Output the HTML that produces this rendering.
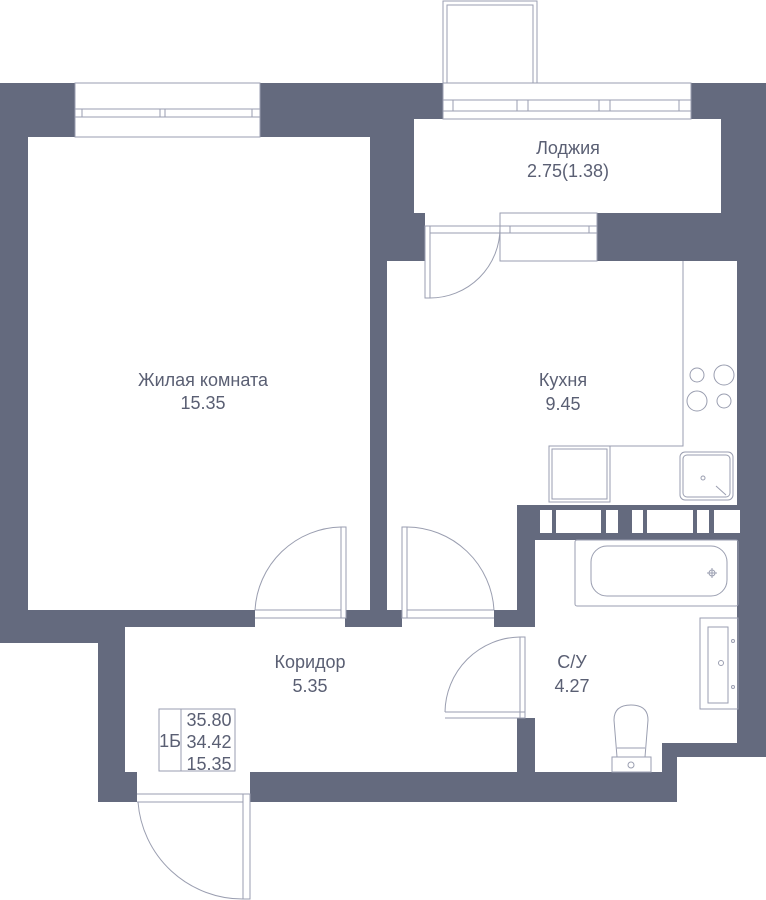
<!DOCTYPE html>
<html><head><meta charset="utf-8"><style>
html,body{margin:0;padding:0;background:#fff;}
svg{display:block;}
text{font-family:"Liberation Sans","Noto Sans CJK SC",sans-serif;fill:#5a5f73;font-size:18px;text-anchor:middle;}
</style></head><body>
<svg width="766" height="900" viewBox="0 0 766 900" xmlns="http://www.w3.org/2000/svg">
<g fill="#646a7e">
<rect x="0" y="83" width="766" height="178"/>
<rect x="0" y="83" width="28" height="560"/>
<rect x="0" y="610" width="255" height="33"/>
<rect x="98" y="610" width="27" height="192"/>
<rect x="98" y="772" width="579" height="30"/>
<rect x="370" y="137" width="17" height="490"/>
<rect x="345" y="610" width="57" height="17"/>
<rect x="494" y="610" width="41" height="17"/>
<rect x="517" y="505" width="249" height="35"/>
<rect x="517" y="505" width="18" height="122"/>
<rect x="517" y="718" width="18" height="84"/>
<rect x="737" y="83" width="29" height="674"/>
<rect x="662" y="743" width="104" height="14"/>
<rect x="662" y="743" width="15" height="59"/>
</g>
<g fill="#fff">
<rect x="28" y="137" width="342" height="473"/>
<rect x="387" y="261" width="350" height="244"/>
<rect x="387" y="505" width="130" height="105"/>
<rect x="414" y="119" width="307" height="94"/>
<rect x="125" y="627" width="392" height="145"/>
<rect x="535" y="540" width="202" height="203"/>
<rect x="535" y="740" width="127" height="32"/>
<rect x="255" y="605" width="90" height="25"/>
<rect x="402" y="605" width="92" height="25"/>
<rect x="514" y="627" width="24" height="91"/>
<rect x="137" y="769" width="113" height="36"/>
<rect x="425" y="210" width="75" height="54"/>
</g>
<g fill="#fff" stroke="#9a9eb0" stroke-width="1">
<rect x="75" y="83" width="185" height="54"/>
<line x1="75" y1="109" x2="260" y2="109"/><line x1="75" y1="117" x2="260" y2="117"/>
<line x1="82" y1="109" x2="82" y2="117"/><line x1="160" y1="109" x2="160" y2="117"/><line x1="165" y1="109" x2="165" y2="117"/><line x1="252" y1="109" x2="252" y2="117"/>
<rect x="443" y="83" width="248" height="36"/>
<line x1="443" y1="100" x2="691" y2="100"/><line x1="443" y1="111" x2="691" y2="111"/>
<line x1="453" y1="100" x2="453" y2="111"/><line x1="517" y1="100" x2="517" y2="111"/><line x1="528" y1="100" x2="528" y2="111"/><line x1="599" y1="100" x2="599" y2="111"/><line x1="610" y1="100" x2="610" y2="111"/><line x1="679" y1="100" x2="679" y2="111"/>
<rect x="443" y="1" width="94" height="82"/>
<rect x="447" y="5" width="86" height="78"/>
<rect x="500" y="213" width="97" height="48"/>
<line x1="425" y1="226" x2="597" y2="226"/><line x1="425" y1="233" x2="597" y2="233"/>
<line x1="510" y1="226" x2="510" y2="233"/><line x1="589" y1="226" x2="589" y2="233"/>
<rect x="425" y="226" width="5" height="72"/>
<path d="M430 298 A70 70 0 0 0 500 228" fill="none"/>
</g>
<g fill="#fff" stroke="#9a9eb0" stroke-width="1">
<line x1="255" y1="610" x2="345" y2="610"/><line x1="255" y1="618" x2="345" y2="618"/>
<rect x="341" y="527" width="5" height="91"/>
<path d="M255 610 A88 88 0 0 1 341 527" fill="none"/>
<line x1="402" y1="610" x2="494" y2="610"/><line x1="402" y1="618" x2="494" y2="618"/>
<rect x="402" y="527" width="5" height="91"/>
<path d="M407 527 A88 88 0 0 1 494 610" fill="none"/>
<rect x="520" y="637" width="5" height="81"/>
<line x1="445" y1="712" x2="525" y2="712"/><line x1="445" y1="718" x2="525" y2="718"/>
<path d="M445 712 A76 76 0 0 1 520 637" fill="none"/>
<line x1="137" y1="794" x2="250" y2="794"/><line x1="137" y1="802" x2="250" y2="802"/>
<rect x="243" y="794" width="7" height="105"/>
<path d="M138 802 A105 105 0 0 0 243 899" fill="none"/>
</g>
<g fill="#fff">
<rect x="540" y="510" width="12" height="23"/><rect x="556" y="510" width="45" height="23"/><rect x="606" y="510" width="12" height="23"/><rect x="632" y="510" width="11" height="23"/><rect x="647" y="510" width="46" height="23"/><rect x="697" y="510" width="12" height="23"/><rect x="714" y="510" width="26" height="23"/>
</g>
<g fill="none" stroke="#9a9eb0" stroke-width="1">
<path d="M683 261 V446 H549"/>
<circle cx="697" cy="375" r="7"/><circle cx="724" cy="375" r="10"/><circle cx="697" cy="401" r="10"/><circle cx="724" cy="401" r="7"/>
<rect x="680" y="452" width="53" height="48" rx="5"/>
<rect x="683" y="455" width="47" height="42" rx="4"/>
<circle cx="703" cy="478" r="2"/><line x1="716" y1="486" x2="726" y2="495"/>
<rect x="549" y="446" width="61" height="56"/><rect x="552" y="449" width="55" height="50"/>
<rect x="575" y="540" width="163" height="66" rx="2"/>
<rect x="591" y="546" width="136" height="50" rx="16"/>
<circle cx="712" cy="573" r="3"/><line x1="707" y1="573" x2="717" y2="573"/><line x1="712" y1="568" x2="712" y2="578"/>
<rect x="700" y="618" width="38" height="91"/>
<rect x="708" y="627" width="20" height="76"/>
<circle cx="721" cy="663" r="2.5"/><circle cx="733" cy="641" r="1.5"/><circle cx="733" cy="687" r="1.5"/>
<rect x="612" y="757" width="39" height="15"/>
<circle cx="631" cy="765" r="3"/>
<path d="M617 757 L614 720 Q614 705 631 705 Q648 705 648 720 L645 757"/>
<path d="M617 748 H645"/>
<rect x="159" y="709" width="76" height="62"/>
<line x1="181" y1="709" x2="181" y2="771"/>
</g>
<text x="203" y="386">Жилая комната</text>
<text x="203" y="409">15.35</text>
<text x="563" y="386">Кухня</text>
<text x="563" y="410">9.45</text>
<text x="568" y="154">Лоджия</text>
<text x="568" y="177">2.75(1.38)</text>
<text x="310" y="668">Коридор</text>
<text x="310" y="692">5.35</text>
<text x="572" y="668">С/У</text>
<text x="572" y="692">4.27</text>
<text x="170" y="747">1Б</text>
<text x="209" y="726">35.80</text>
<text x="209" y="748">34.42</text>
<text x="209" y="770">15.35</text>
</svg>
</body></html>
